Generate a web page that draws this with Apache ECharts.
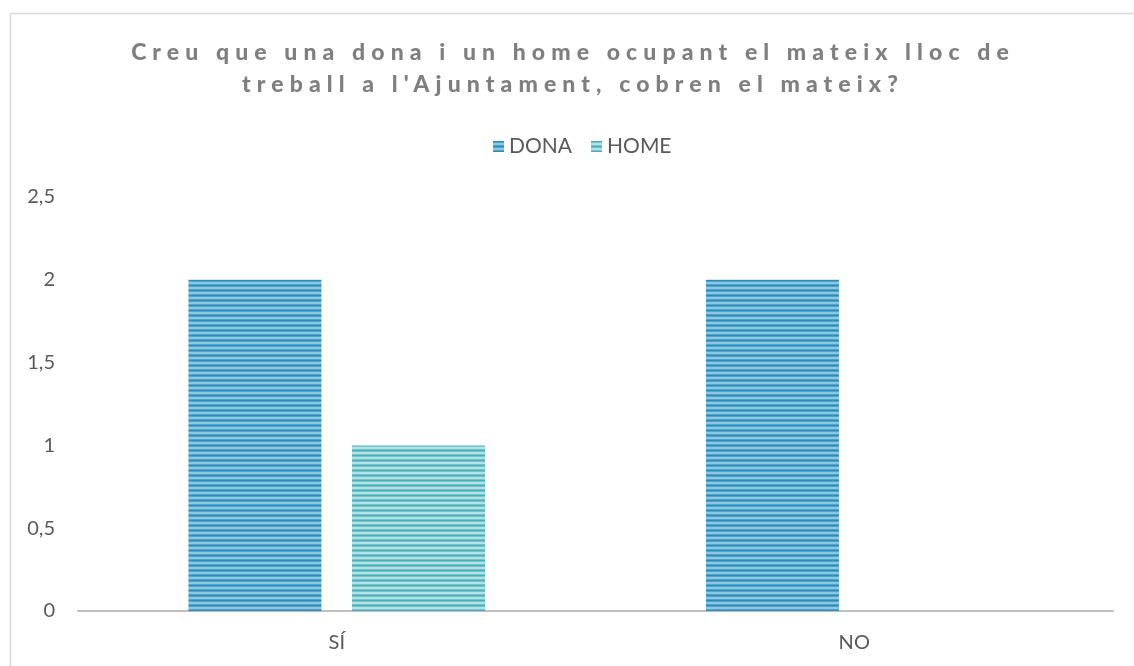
<!DOCTYPE html>
<html>
<head>
<meta charset="utf-8">
<script src="https://cdn.jsdelivr.net/npm/echarts@6/dist/echarts.min.js"></script>
<style>
  html, body { margin: 0; padding: 0; background: #fff; }
  #wrap { position: relative; width: 1134px; height: 666px; }
  #chart { width: 1134px; height: 666px; }
  #title {
    position: absolute; left: 0; top: 35px; width: 1134px;
    text-align: center; color: #7f7f7f;
    font: 900 23px Lato, "Open Sans", sans-serif;
    letter-spacing: 6.1px; line-height: 32px; padding-left: 12px; box-sizing: border-box;
  }
</style>
</head>
<body>
<div id="wrap">
  <div id="chart"></div>
  <div id="title">Creu que una dona i un home ocupant el mateix lloc de<br>treball a l'Ajuntament, cobren el mateix?</div>
</div>
<script>
const categories = ['SÍ', 'NO']
const seriesNames = ['DONA', 'HOME']
const donaValues = [2, 2]
const homeValues = [1, 0]

// horizontal stripe tile used as bar fill
const stripes = (dark, mid, light) => {
  const c = document.createElement('canvas')
  c.width = 4
  c.height = 5
  const ctx = c.getContext('2d')
  const rows = [dark, mid, light, light, mid]
  rows.forEach((col, i) => {
    ctx.fillStyle = col
    ctx.fillRect(0, i, 4, 1)
  })
  return { image: c, repeat: 'repeat' }
}

const donaFill = stripes('#2f8ab6', '#4fa5cc', '#8cc8e2')
const homeFill = stripes('#4aaeb8', '#74c4cb', '#b3e1e4')

const chart = echarts.init(document.getElementById('chart'))
const font = 'Lato, "Open Sans", sans-serif'

chart.setOption({
  animation: false,
  graphic: [{
    type: 'rect',
    left: 8, top: 11,
    shape: { width: 1200, height: 720 },
    style: { fill: 'none', stroke: '#d9d9d9', lineWidth: 1.5 },
    silent: true
  }],
  legend: {
    data: seriesNames,
    top: 131,
    left: 488,
    icon: 'rect',
    itemWidth: 11,
    itemHeight: 11,
    itemGap: 19,
    textStyle: { fontFamily: font, fontSize: 21, color: '#595959' }
  },
  grid: { left: 78, right: 21, top: 197, bottom: 55, containLabel: false },
  xAxis: {
    type: 'category',
    data: categories,
    axisTick: { show: false },
    axisLine: { lineStyle: { color: '#bfbfbf', width: 2 } },
    axisLabel: { fontFamily: font, fontSize: 20, color: '#595959', margin: 22 }
  },
  yAxis: {
    type: 'value',
    min: 0,
    max: 2.5,
    interval: 0.5,
    splitLine: { show: false },
    axisLine: { show: false },
    axisTick: { show: false },
    axisLabel: {
      fontFamily: font, fontSize: 20, color: '#595959', margin: 23,
      formatter: v => String(v).replace('.', ',')
    }
  },
  series: [
    {
      name: 'DONA', type: 'bar', data: donaValues,
      barWidth: '25.7%', barGap: '23%',
      itemStyle: { color: donaFill }
    },
    {
      name: 'HOME', type: 'bar', data: homeValues,
      barWidth: '25.7%', barGap: '23%',
      itemStyle: { color: homeFill }
    }
  ]
})
</script>
</body>
</html>
